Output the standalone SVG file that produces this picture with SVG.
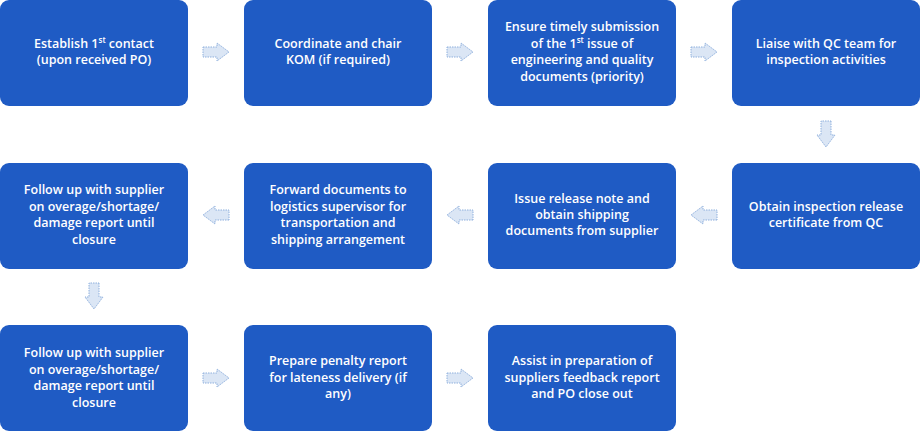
<svg xmlns="http://www.w3.org/2000/svg" width="920" height="432" viewBox="0 0 920 432">
<style>
.b{fill:#1f5bc4}
.t{fill:#fff;font-family:"Open Sans","Liberation Sans",sans-serif;font-weight:600;font-size:12.5px;text-anchor:middle}
.a{fill:#dbe6f5;stroke:#8fb0dd;stroke-width:1;stroke-dasharray:1.5 1}
</style>
<defs>
<path id="ar" d="M-13,-5 H1 V-9 L13,0 L1,9 V5 H-13 Z"/>
</defs>
<g id="n1"><rect class="b" x="0" y="0" width="188" height="106" rx="9"/><text class="t" x="94" y="48">Establish 1<tspan font-size="8" dy="-5">st</tspan><tspan dy="5"> contact</tspan></text><text class="t" x="94" y="64">(upon received PO)</text></g>
<g id="n2"><rect class="b" x="244" y="0" width="188" height="106" rx="9"/><text class="t" x="338" y="48">Coordinate and chair</text><text class="t" x="338" y="64">KOM (if required)</text></g>
<g id="n3"><rect class="b" x="488" y="0" width="188" height="106" rx="9"/><text class="t" x="582" y="31">Ensure timely submission</text><text class="t" x="582" y="48">of the 1<tspan font-size="8" dy="-5">st</tspan><tspan dy="5"> issue of</tspan></text><text class="t" x="582" y="64">engineering and quality</text><text class="t" x="582" y="81">documents (priority)</text></g>
<g id="n4"><rect class="b" x="732" y="0" width="188" height="106" rx="9"/><text class="t" x="826" y="48">Liaise with QC team for</text><text class="t" x="826" y="64">inspection activities</text></g>
<g id="n5"><rect class="b" x="732" y="163" width="188" height="106" rx="9"/><text class="t" x="826" y="211">Obtain inspection release</text><text class="t" x="826" y="227">certificate from QC</text></g>
<g id="n6"><rect class="b" x="488" y="163" width="188" height="106" rx="9"/><text class="t" x="582" y="203">Issue release note and</text><text class="t" x="582" y="219">obtain shipping</text><text class="t" x="582" y="235">documents from supplier</text></g>
<g id="n7"><rect class="b" x="244" y="163" width="188" height="106" rx="9"/><text class="t" x="338" y="194">Forward documents to</text><text class="t" x="338" y="211">logistics supervisor for</text><text class="t" x="338" y="227">transportation and</text><text class="t" x="338" y="244">shipping arrangement</text></g>
<g id="n8"><rect class="b" x="0" y="163" width="188" height="106" rx="9"/><text class="t" x="94" y="194">Follow up with supplier</text><text class="t" x="94" y="211">on overage/shortage/</text><text class="t" x="94" y="227">damage report until</text><text class="t" x="94" y="244">closure</text></g>
<g id="n9"><rect class="b" x="0" y="325" width="188" height="106" rx="9"/><text class="t" x="94" y="357">Follow up with supplier</text><text class="t" x="94" y="374">on overage/shortage/</text><text class="t" x="94" y="390">damage report until</text><text class="t" x="94" y="407">closure</text></g>
<g id="n10"><rect class="b" x="244" y="325" width="188" height="106" rx="9"/><text class="t" x="338" y="365">Prepare penalty report</text><text class="t" x="338" y="382">for lateness delivery (if</text><text class="t" x="338" y="398">any)</text></g>
<g id="n11"><rect class="b" x="488" y="325" width="188" height="106" rx="9"/><text class="t" x="582" y="365">Assist in preparation of</text><text class="t" x="582" y="382">suppliers feedback report</text><text class="t" x="582" y="398">and PO close out</text></g>
<g id="connectors">
<use href="#ar" class="a" transform="translate(216,52)"/>
<use href="#ar" class="a" transform="translate(460,52)"/>
<use href="#ar" class="a" transform="translate(704,52)"/>
<use href="#ar" class="a" transform="translate(826,134) rotate(90)"/>
<use href="#ar" class="a" transform="translate(704,215) rotate(180)"/>
<use href="#ar" class="a" transform="translate(460,215) rotate(180)"/>
<use href="#ar" class="a" transform="translate(216,215) rotate(180)"/>
<use href="#ar" class="a" transform="translate(94,296) rotate(90)"/>
<use href="#ar" class="a" transform="translate(216,378)"/>
<use href="#ar" class="a" transform="translate(460,378)"/>
</g>
</svg>
